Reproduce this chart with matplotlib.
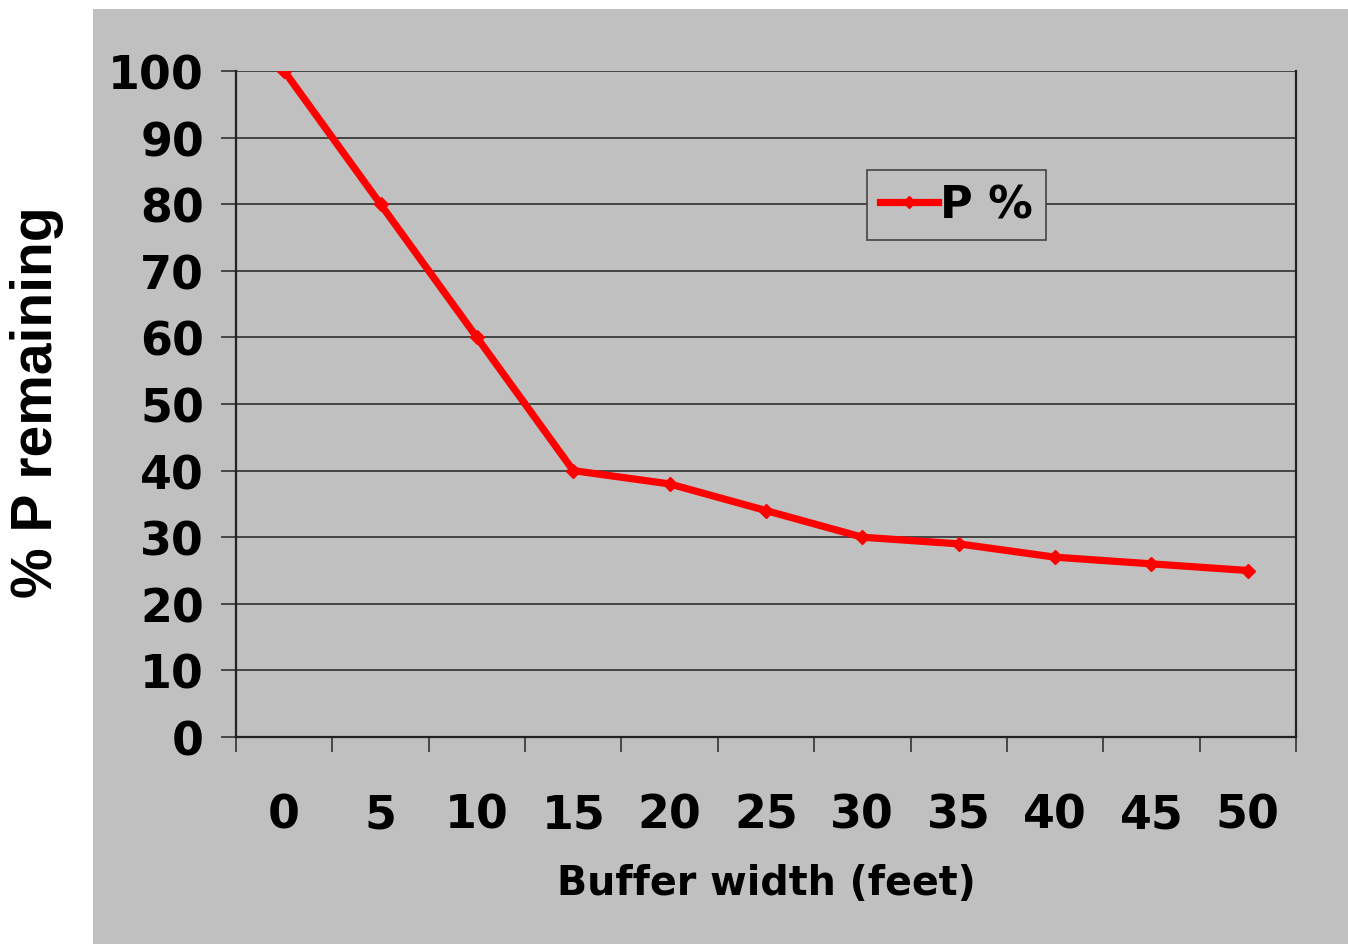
import matplotlib
matplotlib.use('Agg')
import matplotlib.pyplot as plt
from matplotlib.patches import Rectangle
from matplotlib.font_manager import FontProperties

# data
buffer_ft = ['0', '5', '10', '15', '20', '25', '30', '35', '40', '45', '50']
p_pct = [100, 80, 60, 40, 38, 34, 30, 29, 27, 26, 25]

W, H = 1348, 945
BG = '#c0c0c0'

fig = plt.figure(figsize=(W / 100, H / 100), dpi=100, facecolor='white')
# gray chart area (white strip on the left for the y label)
fig.patches.append(Rectangle((93 / W, 0), 1 - 93 / W, 1 - 10 / H, transform=fig.transFigure,
                             facecolor=BG, edgecolor='none', zorder=-5))

ax = fig.add_axes([236 / W, 1 - 738 / H, (1296 - 236) / W, (738 - 72) / H])
ax.set_facecolor(BG)

x = list(range(len(buffer_ft)))
ax.plot(x, p_pct, color='#ff0000', lw=5.2, marker='D', ms=7.5, mec='#ff0000',
        label='P %', solid_joinstyle='round', zorder=3)

ax.set_xlim(-0.5, len(buffer_ft) - 0.5)
ax.set_ylim(0, 100)
ax.set_yticks(range(0, 101, 10))
ax.yaxis.grid(True, color='#3a3a3a', lw=1.3)
ax.set_axisbelow(True)

# category ticks sit between the categories, labels centred under each point
ax.set_xticks([i - 0.5 for i in range(len(buffer_ft) + 1)])
ax.set_xticklabels([])
ax.set_xticks(x, minor=True)
ax.set_xticklabels(buffer_ft, minor=True)
ax.tick_params(axis='x', which='major', length=11, width=1.2, color='#333333', direction='out')
ax.tick_params(axis='x', which='minor', length=0, pad=40)
ax.tick_params(axis='y', length=11, width=1.2, color='#333333', pad=12)

tick_font = dict(family='DejaVu Sans', weight='bold', size=33)
for lab in ax.get_xticklabels(minor=True) + ax.get_yticklabels():
    lab.set_fontproperties(FontProperties(**tick_font))

for side in ['left', 'bottom', 'right']:
    ax.spines[side].set_color('#222222')
    ax.spines[side].set_linewidth(1.6)
ax.spines['top'].set_visible(False)

ax.set_xlabel('Buffer width (feet)', fontdict=dict(family='DejaVu Sans', weight='bold', size=28.5),
              labelpad=18)
fig.text(37 / W, 1 - 402 / H, '% P remaining', rotation=90, ha='center', va='center',
         family='Liberation Sans', weight='bold', size=41)

leg = ax.legend(loc='upper left', bbox_to_anchor=((867 - 236) / (1296 - 236), 1 - (171 - 72) / (738 - 72)),
                frameon=True, fancybox=False, facecolor=BG, edgecolor='#444444', framealpha=1,
                prop=dict(family='DejaVu Sans', weight='bold', size=32),
                handlelength=1.3, handletextpad=0.05, borderpad=0.3, borderaxespad=0,
                markerscale=0.8)
leg.get_frame().set_linewidth(1.2)

fig.savefig('out.png', dpi=100, facecolor='white')
